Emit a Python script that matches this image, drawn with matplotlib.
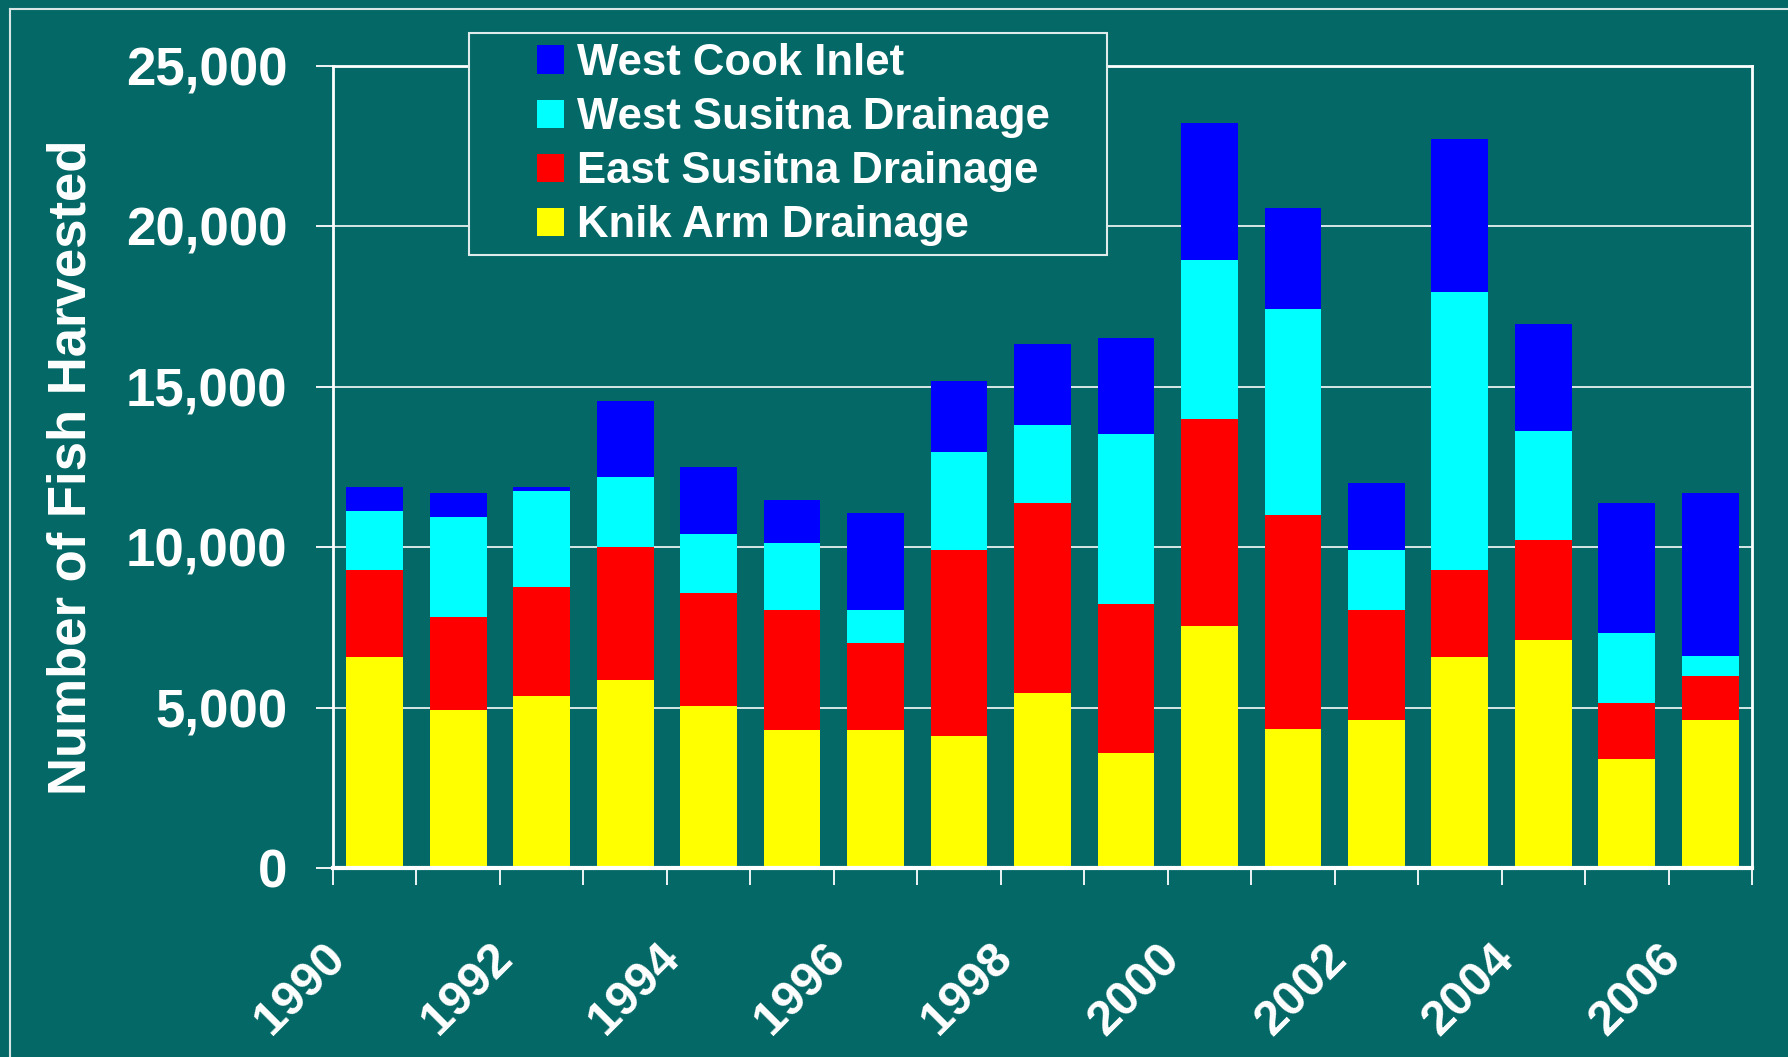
import numpy as np
import matplotlib.pyplot as plt
from matplotlib.patches import Rectangle
from matplotlib.lines import Line2D

plt.rcParams['font.family'] = ['Liberation Sans', 'DejaVu Sans']
plt.rcParams['font.weight'] = 'bold'

years = list(range(1990, 2007))
knik_arm = [6580, 4930, 5360, 5860, 5050, 4300, 4300, 4130, 5470, 3600, 7530, 4340, 4620, 6580, 7110, 3400, 4610]
east_susitna = [2710, 2900, 3400, 4150, 3520, 3740, 2710, 5780, 5900, 4640, 6460, 6670, 3410, 2710, 3120, 1740, 1370]
west_susitna = [1840, 3120, 2990, 2180, 1840, 2090, 1030, 3050, 2450, 5290, 4970, 6430, 1880, 8650, 3400, 2180, 620]
west_cook = [750, 750, 130, 2370, 2090, 1340, 3020, 2210, 2520, 2990, 4270, 3130, 2100, 4790, 3320, 4050, 5080]
series_names = ['Knik Arm Drainage', 'East Susitna Drainage', 'West Susitna Drainage', 'West Cook Inlet']
series_colors = ['#ffff00', '#ff0000', '#00ffff', '#0000ff']

bg = '#036866'
W, H = 1788, 1057
fig = plt.figure(figsize=(W / 100, H / 100), dpi=100, facecolor=bg)
ax = fig.add_axes([333 / W, 1 - 868 / H, (1752 - 333) / W, (868 - 66) / H])
ax.set_facecolor('none')

x = np.arange(len(years))
bottom = np.zeros(len(years))
bars = []
for vals, name, col in zip([knik_arm, east_susitna, west_susitna, west_cook], series_names, series_colors):
    b = ax.bar(x, vals, width=0.68, bottom=bottom, color=col, label=name, zorder=2)
    bars.append(b)
    bottom += np.array(vals)

ax.set_xlim(-0.5, len(years) - 0.5)
ax.set_ylim(0, 25000)
ax.set_yticks(range(0, 25001, 5000))
ax.set_yticklabels(['{:,}'.format(v) for v in range(0, 25001, 5000)])
ax.yaxis.grid(True, color='#e8f0f0', linewidth=1.3, zorder=0)
ax.tick_params(axis='y', colors='white', labelsize=38, length=12, width=1.3, pad=21)

# year labels every other bar, boundaries carry the tick marks
ax.set_xticks(x[::2] - 0.44)
ax.set_xticklabels([str(y) for y in years[::2]], rotation=45, ha='right', va='center',
                   rotation_mode='anchor')
ax.tick_params(axis='x', which='major', length=0, labelsize=35, labelcolor='white', pad=60)
ax.set_xticks(np.arange(-0.5, len(years)), minor=True)
ax.tick_params(axis='x', which='minor', length=12, width=1.3, color='white')

for s in ['left', 'right', 'top']:
    ax.spines[s].set_color('white')
    ax.spines[s].set_linewidth(2)
ax.spines['bottom'].set_color('white')
ax.spines['bottom'].set_linewidth(3)

ax.set_ylabel('Number of Fish Harvested', color='white', fontsize=38, fontweight='bold')
ax.yaxis.set_label_coords(-0.167, 0.5)

# outer frame of the slide
fig.add_artist(Line2D([10 / W, 1], [1 - 9 / H, 1 - 9 / H], color='#d8e6e6', lw=1.5))
fig.add_artist(Line2D([10 / W, 10 / W], [0, 1 - 9 / H], color='#d8e6e6', lw=1.5))

# legend box
fig.add_artist(Rectangle((469 / W, 1 - 255 / H), 638 / W, 222 / H, transform=fig.transFigure,
                         facecolor=bg, edgecolor='#e0ecec', lw=1.5, zorder=3))
leg = fig.legend([b[0] for b in bars[::-1]], series_names[::-1], loc='upper left',
                 bbox_to_anchor=(537 / W, 1 - 43 / H), frameon=False, fontsize=31.5,
                 handlelength=0.62, handleheight=0.62, handletextpad=0.3,
                 labelspacing=0.3, borderpad=0, borderaxespad=0)
leg.set_zorder(4)
for t in leg.get_texts():
    t.set_color('white')

fig.savefig('out.png', dpi=100, facecolor=bg)
